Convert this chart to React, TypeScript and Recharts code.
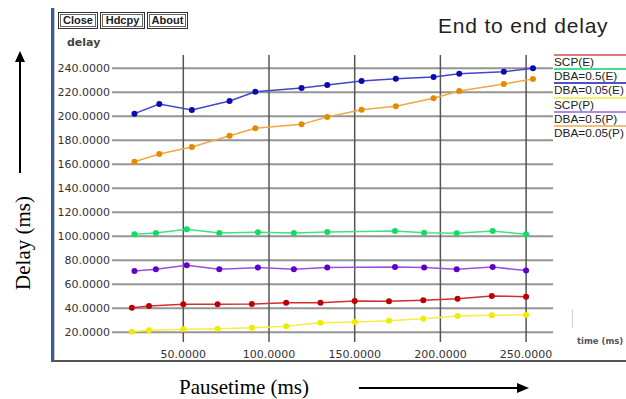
import React from "react";
import { LineChart, Line, XAxis, YAxis, ReferenceLine } from "recharts";

// ---- data ----
const xGridTicks = [50, 100, 150, 200, 250];
const yGridTicks = [20, 40, 60, 80, 100, 120, 140, 160, 180, 200, 220, 240];

const scpX = [20, 30, 50, 70, 90, 110, 130, 150, 170, 190, 210, 230, 250];
const scpE = [40.5, 41.9, 43.3, 43.3, 43.6, 44.7, 44.7, 46.1, 45.8, 46.7, 48.0, 50.2, 49.7];
const scpP = [20.5, 21.7, 22.5, 23.0, 23.8, 25.0, 28.0, 28.6, 29.7, 31.3, 33.6, 34.2, 34.7];

const dba5X = [21.5, 34, 52, 71, 93.5, 114.5, 134, 173.5, 190.5, 209.5, 230.5, 250];
const dba5E = [101.7, 102.8, 105.8, 102.8, 103.3, 102.8, 103.6, 104.4, 103.0, 102.5, 104.4, 101.7];
const dba5P = [71.1, 72.5, 75.8, 72.5, 73.9, 72.5, 73.9, 74.4, 73.9, 72.5, 74.4, 71.4];

const dba05X = [21.5, 36, 55, 77, 92, 119, 134, 154, 174, 196, 211, 237, 254];
const dba05E = [202.2, 210.2, 205.2, 212.7, 220.5, 223.6, 226.1, 229.4, 231.4, 232.8, 235.5, 237.2, 240.0];
const dba05P = [162.2, 168.6, 174.4, 183.8, 190.0, 193.3, 199.4, 205.5, 208.3, 215.0, 221.1, 226.9, 231.1];

const seriesNames = ["SCP(E)", "DBA=0.5(E)", "DBA=0.05(E)", "SCP(P)", "DBA=0.5(P)", "DBA=0.05(P)"];
const buttonLabels = ["Close", "Hdcpy", "About"];

const zip = (xs: number[], ys: number[]) => xs.map((x, i) => ({ x, y: ys[i] }));

const series = [
  { name: seriesNames[0], data: zip(scpX, scpE), line: "#d03030", dot: "#c00000", legend: "#e07878" },
  { name: seriesNames[1], data: zip(dba5X, dba5E), line: "#40e08a", dot: "#10dd60", legend: "#40e090" },
  { name: seriesNames[2], data: zip(dba05X, dba05E), line: "#4545c8", dot: "#0a0ab0", legend: "#5050c8" },
  { name: seriesNames[3], data: zip(scpX, scpP), line: "#f4f040", dot: "#f0ec00", legend: "#f4f070" },
  { name: seriesNames[4], data: zip(dba5X, dba5P), line: "#9a50dc", dot: "#6000c8", legend: "#b488e4" },
  { name: seriesNames[5], data: zip(dba05X, dba05P), line: "#f0a840", dot: "#e68a00", legend: "#f0c080" },
];

const fmt = (v: number) => v.toFixed(4);

export default function App() {
  return (
    <div
      style={{
        position: "absolute",
        left: 0,
        top: 0,
        width: 626,
        height: 399,
        background: "#fff",
        overflow: "hidden",
      }}
    >
      {/* window frame */}
      <div style={{ position: "absolute", left: 51, top: 8, width: 3, height: 354, background: "#3a5a98" }} />
      <div style={{ position: "absolute", left: 54, top: 8, width: 1, height: 354, background: "#c8c8c8" }} />
      <div style={{ position: "absolute", left: 51, top: 360, width: 575, height: 2, background: "#555" }} />

      <div style={{ position: "absolute", left: 0, top: 0 }}>
        <LineChart
          width={626}
          height={399}
          margin={{ top: 55, right: 73, bottom: 37, left: 0 }}
        >
          <XAxis
            dataKey="x"
            type="number"
            domain={[8.4, 265.7]}
            allowDataOverflow
            ticks={xGridTicks}
            tickFormatter={fmt}
            axisLine={false}
            tickLine={false}
            tickSize={0}
            tickMargin={8}
            height={20}
            tick={{ fontSize: 11, fill: "#333", fontFamily: "DejaVu Sans" }}
          />
          <YAxis
            type="number"
            domain={[11.9, 251.1]}
            allowDataOverflow
            ticks={yGridTicks}
            tickFormatter={fmt}
            axisLine={false}
            tickLine={false}
            tickSize={0}
            tickMargin={2}
            width={112}
            tick={{ fontSize: 11, fill: "#333", fontFamily: "DejaVu Sans" }}
          />
          {yGridTicks.map((t) => (
            <ReferenceLine key={"h" + t} y={t} stroke="#959595" strokeWidth={2} />
          ))}
          {xGridTicks.map((t) => (
            <ReferenceLine key={"v" + t} x={t} stroke="#555" strokeWidth={1.5} />
          ))}
          {series.map((s) => (
            <Line
              key={s.name}
              data={s.data}
              dataKey="y"
              name={s.name}
              type="linear"
              stroke={s.line}
              strokeWidth={1.5}
              dot={{ r: 3, fill: s.dot, stroke: "none" }}
              activeDot={false}
              isAnimationActive={false}
            />
          ))}
        </LineChart>
      </div>

      {/* buttons */}
      <div style={{ position: "absolute", left: 58, top: 12, display: "flex", gap: 2 }}>
        {buttonLabels.map((b, i) => (
          <div
            key={b}
            style={{
              width: [40, 45, 41][i],
              height: 17,
              boxSizing: "border-box",
              border: "1px solid #333",
              boxShadow: "inset 0 0 0 1px #fff, inset 0 0 0 2px #666",
              fontFamily: "Liberation Sans",
              fontWeight: "bold",
              fontSize: 11,
              lineHeight: "15px",
              textAlign: "center",
              color: "#222",
            }}
          >
            {b}
          </div>
        ))}
      </div>

      {/* y unit label */}
      <div
        style={{
          position: "absolute",
          left: 67,
          top: 36,
          fontFamily: "DejaVu Sans",
          fontWeight: "bold",
          fontSize: 11,
          color: "#444",
        }}
      >
        delay
      </div>

      {/* title */}
      <div
        style={{
          position: "absolute",
          left: 438,
          top: 14,
          fontFamily: "Liberation Sans",
          fontSize: 21,
          letterSpacing: 0.8,
          color: "#222",
          whiteSpace: "nowrap",
        }}
      >
        End to end delay
      </div>

      {/* legend */}
      {series.map((s, i) => (
        <div key={s.name} style={{ position: "absolute", left: 554, top: 54 + i * 14.2, width: 72 }}>
          <div style={{ height: 2, background: s.legend, width: 72 }} />
          <div
            style={{
              fontFamily: "Liberation Sans",
              fontSize: 11.8,
              lineHeight: "12px",
              color: "#222",
              whiteSpace: "nowrap",
            }}
          >
            {s.name}
          </div>
        </div>
      ))}

      {/* x unit label */}
      <div style={{ position: "absolute", left: 572, top: 310, width: 1, height: 18, background: "#d0d0d0" }} />
      <div
        style={{
          position: "absolute",
          left: 577,
          top: 336,
          fontFamily: "DejaVu Sans",
          fontWeight: "bold",
          fontSize: 8.5,
          color: "#555",
          whiteSpace: "nowrap",
        }}
      >
        time (ms)
      </div>

      {/* outer axis captions and arrows */}
      <svg style={{ position: "absolute", left: 0, top: 0 }} width={626} height={399}>
        <line x1={20} y1={60} x2={20} y2={173} stroke="#000" strokeWidth={2} />
        <polygon points="20,51 15,62 25,62" fill="#000" />
        <line x1={359} y1={388} x2={520} y2={388} stroke="#000" strokeWidth={2} />
        <polygon points="529,388 517,383 517,393" fill="#000" />
        <text
          x={0}
          y={0}
          transform="translate(30,243) rotate(-90)"
          textAnchor="middle"
          fontFamily="Liberation Serif"
          fontSize={21}
          fill="#000"
        >
          Delay (ms)
        </text>
        <text x={244} y={394} textAnchor="middle" fontFamily="Liberation Serif" fontSize={21} fill="#000">
          Pausetime (ms)
        </text>
      </svg>
    </div>
  );
}
